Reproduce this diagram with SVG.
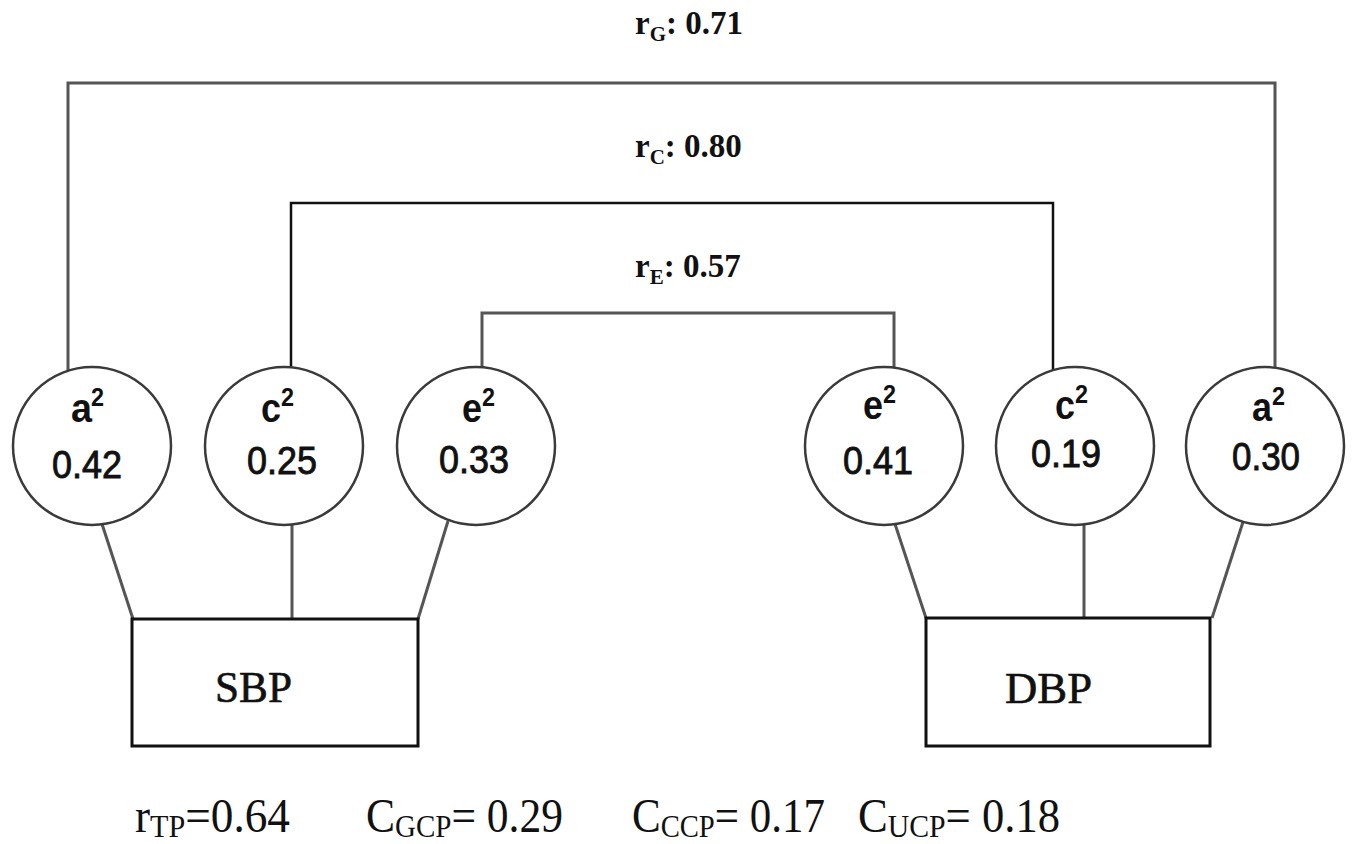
<svg xmlns="http://www.w3.org/2000/svg" width="1352" height="844" viewBox="0 0 1352 844">
<style>
.bg{fill:#ffffff}
.circ{fill:#ffffff;stroke:#3a3a3a;stroke-width:2.5}
.box{fill:#ffffff;stroke:#111111;stroke-width:3}
.con{fill:none;stroke:#555555;stroke-width:3}
.conb{fill:none;stroke:#111111;stroke-width:2.5}
.sym{font-family:"Liberation Sans",Arial,sans-serif;font-weight:bold;font-size:40px;fill:#111}
.sup{font-family:"Liberation Sans",Arial,sans-serif;font-weight:bold;font-size:26px;fill:#111}
.val{font-family:"Liberation Sans",Arial,sans-serif;font-size:39px;fill:#111;stroke:#111;stroke-width:0.9}
.lab{font-family:"Liberation Serif","Times New Roman",serif;font-weight:bold;font-size:33px;fill:#111}
.box-t{font-family:"Liberation Serif","Times New Roman",serif;font-size:44px;fill:#111;stroke:#111;stroke-width:0.6}
.bot{font-family:"Liberation Serif","Times New Roman",serif;font-size:48px;fill:#111}
</style>
<rect class="bg" x="0" y="0" width="1352" height="844"/>

<g id="connectors">
  <path class="con" d="M68,372 V83 H1275 V368"/>
  <path class="conb" d="M291,367 V203 H1053 V370"/>
  <path class="con" d="M482,367 V313 H894 V368"/>
  <line class="con" x1="102" y1="524" x2="133" y2="619"/>
  <line class="con" x1="292" y1="525" x2="292" y2="619"/>
  <line class="con" x1="448" y1="521" x2="418" y2="619"/>
  <line class="con" x1="895" y1="524" x2="926" y2="618"/>
  <line class="con" x1="1084" y1="525" x2="1084" y2="618"/>
  <line class="con" x1="1243" y1="522" x2="1212" y2="618"/>
</g>

<g id="labels">
  <text class="lab" x="635" y="34">r<tspan font-size="21" dy="7">G</tspan><tspan dy="-7">: 0.71</tspan></text>
  <text class="lab" x="635" y="157">r<tspan font-size="21" dy="7">C</tspan><tspan dy="-7">: 0.80</tspan></text>
  <text class="lab" x="635" y="277">r<tspan font-size="21" dy="7">E</tspan><tspan dy="-7">: 0.57</tspan></text>
</g>

<g id="node-a2-sbp">
  <circle class="circ" cx="92" cy="446" r="79"/>
  <text class="sym" x="71" y="422" textLength="21" lengthAdjust="spacingAndGlyphs">a</text><text class="sup" x="91" y="406" textLength="13" lengthAdjust="spacingAndGlyphs">2</text>
  <text class="val" x="52" y="478" textLength="70" lengthAdjust="spacingAndGlyphs">0.42</text>
</g>
<g id="node-c2-sbp">
  <circle class="circ" cx="284" cy="446" r="79"/>
  <text class="sym" x="261" y="422" textLength="20" lengthAdjust="spacingAndGlyphs">c</text><text class="sup" x="281" y="406" textLength="13" lengthAdjust="spacingAndGlyphs">2</text>
  <text class="val" x="247" y="474" textLength="70" lengthAdjust="spacingAndGlyphs">0.25</text>
</g>
<g id="node-e2-sbp">
  <circle class="circ" cx="476" cy="446" r="79"/>
  <text class="sym" x="462" y="422" textLength="20" lengthAdjust="spacingAndGlyphs">e</text><text class="sup" x="482" y="406" textLength="13" lengthAdjust="spacingAndGlyphs">2</text>
  <text class="val" x="439" y="473" textLength="70" lengthAdjust="spacingAndGlyphs">0.33</text>
</g>
<g id="node-e2-dbp">
  <circle class="circ" cx="884" cy="446" r="79"/>
  <text class="sym" x="863" y="419" textLength="20" lengthAdjust="spacingAndGlyphs">e</text><text class="sup" x="883" y="403" textLength="13" lengthAdjust="spacingAndGlyphs">2</text>
  <text class="val" x="843" y="474" textLength="70" lengthAdjust="spacingAndGlyphs">0.41</text>
</g>
<g id="node-c2-dbp">
  <circle class="circ" cx="1075" cy="446" r="79"/>
  <text class="sym" x="1055" y="419" textLength="20" lengthAdjust="spacingAndGlyphs">c</text><text class="sup" x="1075" y="403" textLength="13" lengthAdjust="spacingAndGlyphs">2</text>
  <text class="val" x="1031" y="467" textLength="70" lengthAdjust="spacingAndGlyphs">0.19</text>
</g>
<g id="node-a2-dbp">
  <circle class="circ" cx="1265" cy="446" r="79"/>
  <text class="sym" x="1252" y="421" textLength="20" lengthAdjust="spacingAndGlyphs">a</text><text class="sup" x="1272" y="405" textLength="13" lengthAdjust="spacingAndGlyphs">2</text>
  <text class="val" x="1232" y="470" textLength="68" lengthAdjust="spacingAndGlyphs">0.30</text>
</g>

<g id="node-sbp">
  <rect class="box" x="132" y="619" width="286" height="127"/>
  <text class="box-t" x="215" y="702" textLength="77" lengthAdjust="spacingAndGlyphs">SBP</text>
</g>
<g id="node-dbp">
  <rect class="box" x="926" y="618" width="284" height="128"/>
  <text class="box-t" x="1005" y="703" textLength="87" lengthAdjust="spacingAndGlyphs">DBP</text>
</g>

<g id="footer">
  <text class="bot" x="135" y="832" textLength="155" lengthAdjust="spacingAndGlyphs">r<tspan font-size="32" dy="5">TP</tspan><tspan dy="-5">=0.64</tspan></text>
  <text class="bot" x="366" y="832" textLength="197" lengthAdjust="spacingAndGlyphs">C<tspan font-size="32" dy="5">GCP</tspan><tspan dy="-5">= 0.29</tspan></text>
  <text class="bot" x="632" y="832" textLength="193" lengthAdjust="spacingAndGlyphs">C<tspan font-size="32" dy="5">CCP</tspan><tspan dy="-5">= 0.17</tspan></text>
  <text class="bot" x="858" y="832" textLength="202" lengthAdjust="spacingAndGlyphs">C<tspan font-size="32" dy="5">UCP</tspan><tspan dy="-5">= 0.18</tspan></text>
</g>
</svg>
